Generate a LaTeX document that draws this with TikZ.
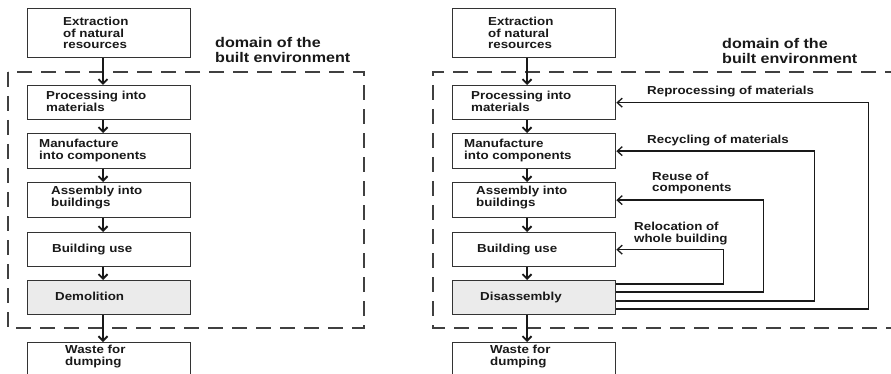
\documentclass[tikz,border=0pt]{standalone}
\usepackage{fontspec}
\setmainfont{Liberation Sans}
\usepackage{graphicx}
\usetikzlibrary{arrows.meta,calc}
\newcommand\tx[1]{\scalebox{1.15}[1]{\begin{tabular}{@{}l@{}}#1\end{tabular}}}
\begin{document}
\begin{tikzpicture}[x=1pt,y=-1pt,
  box/.style={draw=black!80, line width=1.3pt, minimum width=163pt, anchor=north west, inner sep=0pt},
  grey/.style={fill=black!8},
  txt/.style={font=\bfseries\fontsize{11.6}{11.7}\selectfont, inner sep=0pt, anchor=west, text=black!90},
  dom/.style={font=\bfseries\fontsize{14}{14.6}\selectfont, inner sep=0pt, anchor=west, text=black!90},
  domframe/.style={draw=black!75, line width=1.3pt, dash pattern=on 15pt off 9pt},
  flow/.style={draw=black!90, line width=1.9pt, -{Straight Barb[length=4.5pt,width=9pt]}},
  fb/.style={draw=black!90, line width=1.3pt, -{Straight Barb[length=5pt,width=9pt]}}]
\useasboundingbox (0,0) rectangle (891,374);
\clip (0,0) rectangle (891,374);
% ---------- left panel ----------
\node[box, minimum height=49pt] (L1) at (27,8) {};
\node[box, minimum height=34pt] (L2) at (27,85) {};
\node[box, minimum height=35pt] (L3) at (27,133) {};
\node[box, minimum height=35pt] (L4) at (27,182) {};
\node[box, minimum height=34pt] (L5) at (27,232) {};
\node[box, grey, minimum height=34pt] (L6) at (27,280) {};
\node[box, minimum height=49pt] (L7) at (27,342) {};
\node[txt] (L1t) at (63,34.5) {\tx{Extraction\\of natural\\resources}};
\node[txt] (L2t) at (46,103) {\tx{Processing into\\materials}};
\node[txt] (L3t) at (39,151.5) {\tx{Manufacture\\into components}};
\node[txt] (L4t) at (51,198.5) {\tx{Assembly into\\buildings}};
\node[txt] (L5t) at (52,250) {\tx{Building use}};
\node[txt] (L6t) at (55,298) {\tx{Demolition}};
\node[txt] (L7t) at (65,357.5) {\tx{Waste for\\dumping}};
\draw[domframe] (8,72) rectangle (364,328);
\node[dom] (Ld) at (215,52) {\tx{domain of the\\built environment}};
\coordinate (aL) at (103,0);
\foreach \a/\b in {L1/L2,L2/L3,L3/L4,L4/L5,L5/L6,L6/L7}
  \draw[flow] (\a.south -| aL) -- (\b.north -| aL);
% ---------- right panel ----------
\node[box, minimum height=49pt] (R1) at (452,8) {};
\node[box, minimum height=34pt] (R2) at (452,85) {};
\node[box, minimum height=35pt] (R3) at (452,133) {};
\node[box, minimum height=35pt] (R4) at (452,182) {};
\node[box, minimum height=34pt] (R5) at (452,232) {};
\node[box, grey, minimum height=34pt] (R6) at (452,280) {};
\node[box, minimum height=49pt] (R7) at (452,342) {};
\node[txt] (R1t) at (488,34.5) {\tx{Extraction\\of natural\\resources}};
\node[txt] (R2t) at (471,103) {\tx{Processing into\\materials}};
\node[txt] (R3t) at (464,151.5) {\tx{Manufacture\\into components}};
\node[txt] (R4t) at (476,198.5) {\tx{Assembly into\\buildings}};
\node[txt] (R5t) at (477,250) {\tx{Building use}};
\node[txt] (R6t) at (480,298) {\tx{Disassembly}};
\node[txt] (R7t) at (490,357.5) {\tx{Waste for\\dumping}};
\draw[domframe] (900,72) -- (433,72) -- (433,328) -- (900,328);
\node[dom] (Rd) at (722,53) {\tx{domain of the\\built environment}};
\coordinate (aR) at (527,0);
\foreach \a/\b in {R1/R2,R2/R3,R3/R4,R4/R5,R5/R6,R6/R7}
  \draw[flow] (\a.south -| aR) -- (\b.north -| aR);
% feedback loops
\draw[fb] ($(R6.north east)+(0,4)$) -- ++(107,0) |- (R5.east);
\draw[fb] ($(R6.north east)+(0,12)$) -- ++(147,0) |- (R4.east);
\draw[fb] ($(R6.north east)+(0,21)$) -- ++(198,0) |- (R3.east);
\draw[fb] ($(R6.north east)+(0,29)$) -- ++(252,0) |- (R2.east);
\node[txt] (lb1) at (647,92) {\tx{Reprocessing of materials}};
\node[txt] (lb2) at (647,141) {\tx{Recycling of materials}};
\node[txt] (lb3) at (652,183.5) {\tx{Reuse of\\components}};
\node[txt] (lb4) at (634,234) {\tx{Relocation of\\whole building}};
\end{tikzpicture}
\end{document}
